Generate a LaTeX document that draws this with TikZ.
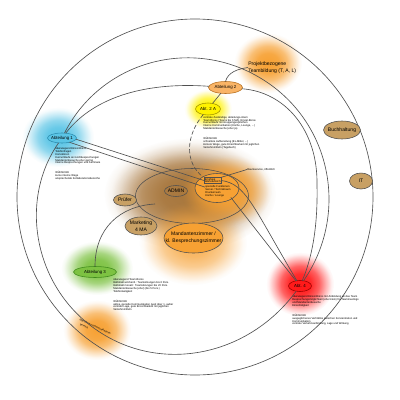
\documentclass[tikz,border=0pt]{standalone}
\usepackage{fontspec}
\setmainfont{Liberation Sans}
\usetikzlibrary{shapes.geometric,fadings}
\newdimen\pxu
\pxu=0.25mm
\pgfdeclareradialshading{glowshade}{\pgfpointorigin}{color(0bp)=(white); color(8bp)=(white!92!black); color(14bp)=(white!68!black); color(19bp)=(white!32!black); color(23bp)=(white!6!black); color(25bp)=(black); color(50bp)=(black)}
\pgfdeclarefading{glowf}{\pgfuseshading{glowshade}}
\definecolor{cyanA}{HTML}{5BC5E6}
\definecolor{cyanD}{HTML}{2C8DB0}
\definecolor{orgA}{HTML}{F7A133}
\definecolor{orgL}{HTML}{F9B466}
\definecolor{orgD}{HTML}{B8701E}
\definecolor{yelA}{HTML}{FFF200}
\definecolor{yelD}{HTML}{A09400}
\definecolor{tanA}{HTML}{C8A064}
\definecolor{grnA}{HTML}{7DC242}
\definecolor{grnD}{HTML}{3F8A1C}
\definecolor{redA}{HTML}{FF1A1A}
\definecolor{redD}{HTML}{990000}
\definecolor{lineA}{HTML}{505050}
\definecolor{brnA}{HTML}{A8773D}
\newcommand{\notefont}{\fontsize{1.9}{2.05}\selectfont}
\tikzset{
  ell/.style={ellipse, draw=lineA, line width=0.4pt, inner sep=0pt, outer sep=0pt},
  conn/.style={draw=lineA, line width=0.45pt},
  note/.style={anchor=north west, inner sep=0pt, align=left, font=\notefont},
  lab/.style={font={\fontsize{3.1}{3.6}\selectfont}},
  labbig/.style={font={\fontsize{3.6}{4.8}\selectfont}},
}
\begin{document}
\begin{tikzpicture}[x=0.25mm,y=-0.25mm]
\useasboundingbox (0,0) rectangle (400,400);
\fill[white] (0,0) rectangle (400,400);
% glows
\fill[cyanA, path fading=glowf] (58,137) ellipse [x radius=36, y radius=30];
\fill[yelA, path fading=glowf] (208,109) ellipse [x radius=24, y radius=20];
\fill[orgA, path fading=glowf] (268,63) ellipse [x radius=34, y radius=30];
\fill[brnA, path fading=glowf] (190,194) ellipse [x radius=86, y radius=56];
\fill[brnA, path fading=glowf, opacity=0.6] (185,196) ellipse [x radius=72, y radius=46];
\fill[orgA, path fading=glowf] (226,190) ellipse [x radius=46, y radius=36];
\fill[orgA, path fading=glowf, opacity=0.8] (193,243) ellipse [x radius=54, y radius=42];
\fill[grnA, path fading=glowf] (97,268) ellipse [x radius=36, y radius=27];
\fill[redA, path fading=glowf] (300,284) ellipse [x radius=34, y radius=32];
\fill[orgA, path fading=glowf] (97,330) ellipse [x radius=34, y radius=30];
% outer circle and admin area
\draw[conn] (195,197) circle [radius=178];
\node[ell, minimum width=113\pxu, minimum height=55\pxu] (adminbig) at (192,196) {};
% nodes
\node[ell, fill=cyanA, draw=cyanD, minimum width=29\pxu, minimum height=10\pxu, lab] (ab1) at (62,138) {\makebox[0pt]{Abteilung 1}};
\node[ell, fill=orgL, draw=orgD, minimum width=34\pxu, minimum height=12\pxu, lab] (ab2) at (225.5,87.5) {\makebox[0pt]{Abteilung 2}};
\node[ell, fill=yelA, draw=yelD, minimum width=25\pxu, minimum height=12\pxu, lab] (ab2a) at (208,109) {\makebox[0pt]{Abt. 2 A}};
\node[anchor=west, align=left, inner sep=0pt, labbig] (proj) at (248,67.5) {Projektbezogene\\Teambildung (T, A, L)};
\node[ell, fill=tanA, minimum width=37\pxu, minimum height=18\pxu, labbig] (buch) at (342,130) {\makebox[0pt]{Buchhaltung}};
\node[ell, fill=tanA, minimum width=23\pxu, minimum height=16\pxu, labbig] (it) at (361,181) {\makebox[0pt]{IT}};
\node[ell, minimum width=23\pxu, minimum height=11\pxu, labbig] (admin) at (176,191) {\makebox[0pt]{ADMIN}};
\node[ell, fill=orgA, minimum width=44\pxu, minimum height=29\pxu] (orng) at (217,188) {};
\node[ell, fill=tanA, minimum width=23\pxu, minimum height=12\pxu, labbig] (pruef) at (125,200) {\makebox[0pt]{Prüfer}};
\node[ell, fill=tanA, minimum width=32\pxu, minimum height=18\pxu] (mkt) at (141,226) {};
\node[align=center, inner sep=0pt, labbig] (mktt) at (mkt) {Marketing\\4 MA};
\node[ell, fill=orgA, minimum width=59\pxu, minimum height=30\pxu] (mand) at (193.5,238) {};
\node[align=center, inner sep=0pt, labbig] (mandt) at (mand) {Mandantenzimmer /\\kl. Besprechungszimmer};
\node[ell, fill=grnA, draw=grnD, minimum width=43\pxu, minimum height=11\pxu, lab] (ab3) at (95,272) {\makebox[0pt]{Abteilung 3}};
\node[ell, fill=redA, draw=redD, minimum width=23\pxu, minimum height=11\pxu, lab] (ab4) at (300,286) {\makebox[0pt]{Abt. 4}};
% inside the orange room
\node[draw=lineA, line width=0.3pt, rectangle, inner sep=0.4pt, anchor=north west, align=left, font=\notefont] (emp) at (204,177.3) {Empfang\\Wartebereich};
\node[note] (spez) at (205,185.6) {spezielle Funktionen};
\node[note] (lst) at (205,188.6) {Server / Technikraum\\Druckerraum\\Küche / Lounge};
\node[anchor=west, inner sep=0pt, font=\notefont] (raum) at (247,169.5) {Raumservice, öffentlich};
\node[rotate=-25, anchor=north west, inner sep=0pt, font=\notefont] (ab5) at (80,318) {Mandanten-Kommunikations-};
\node[rotate=-25, anchor=north west, inner sep=0pt, font=\notefont] (ab5b) at (80.5,323) {bereich};
% notes
\node[note] (n1) at (55,147.3) {überwiegend Einzel-Büros\\Telefonfragen\\Korrektoren\\Kurzumläufe an Großbesprechungen\\Mandantenbesuche eher gering\\Interne Besprechungen und Seminare\\[5pt]WÜNSCHE\\kurze interne Wege\\ansprechende Kollaborationsbereiche};
\node[note] (n2a) at (203,116) {zentrale Zuständige, abteilungs-intern\\Team-Büros (Teams bis 6 MA), Einzel-Büros\\Kurzumläufe mit Gruppengesprächen\\Interne Kommunikation (Küche, Lounge, ...)\\Mandantenbesuche (eher ja)\\[5pt]WÜNSCHE\\schnellere Aufbereitung (EL-Mittel, ...)\\kürzere Wege, gute Erreichbarkeit mit jeglichen\\Verkehrsmitteln (Tagebuch)};
\node[note] (n3) at (113,278.5) {überwiegend Team-Büros\\Halbtrakt wöchentl.: Teamsitzungen bis 6 Pers.\\Halbtrakt monatl.: Teamsitzungen bis 20 Pers.\\Mandantenbesuche (eher) (bis 5 Pers.)\\Telefonlastigkeit\\[5pt]WÜNSCHE\\aktive, gezielte Kommunikation (weit über 1, außer\\zentrale Lage, gute Erreichbarkeit mit jeglichen\\Verkehrsmitteln};
\node[note] (n4) at (292,295.5) {überwiegend Einzel-Büros mit Anbindung an das Team\\Besprechungsmöglichkeit (eher klein) für Teammeetings\\und Mandantenbesuche\\Einzeltätigkeit\\[5pt]WÜNSCHE\\ausgeglichenes Verhältnis zwischen Konzentration und\\Kommunikation\\zentrale Verkehrsanbindung, Lage und Wirkung};
% connectors
\coordinate (mA) at (261.5,78.7);
\coordinate (mC) at (317,185);
\coordinate (mD) at (98.5,331.3);
\coordinate (a3end) at (155,204);
\draw[conn] (ab1) .. controls (101,61) and (192,36) .. (mA) .. controls (331,121) and (350,213) .. (ab4);
\draw[conn] (ab1) .. controls (95,95) and (150,82) .. (ab2);
\draw[conn] (ab2) .. controls (285,92) and (318,130) .. (mC) .. controls (318,230) and (311,260) .. (ab4);
\draw[conn] (ab1) .. controls (18,201) and (34,288.5) .. (mD) .. controls (162.6,374) and (249,355.5) .. (ab4);
\draw[conn] (ab2.north) .. controls (228,72) and (238,69) .. (proj.west);
\draw[conn] (ab2) -- (ab2a);
\draw[conn, dash pattern=on 3pt off 1.5pt] (ab2a) .. controls (186,135) and (184,162) .. (orng);
\draw[conn] (ab1.-5) -- (emp.west);
\draw[conn] (ab1.-30) -- (spez.west);
\draw[conn] (ab4) -- (lst.south east);
\draw[conn] (ab4) .. controls (252,205) and (246,184) .. (emp.east);
\draw[conn] (emp.north east) -- (raum.west);
\draw[conn] (ab3) .. controls (95,228) and (120,206) .. (a3end);
\end{tikzpicture}
\end{document}
